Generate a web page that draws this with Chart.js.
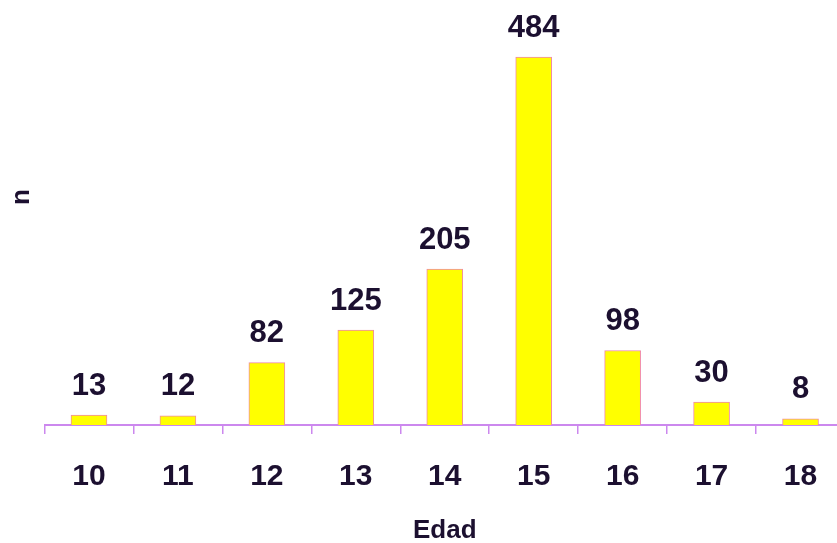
<!DOCTYPE html>
<html>
<head>
<meta charset="utf-8">
<script src="https://cdn.jsdelivr.net/npm/chart.js@4.4.1/dist/chart.umd.min.js"></script>
<style>
  html, body { margin: 0; padding: 0; background: #fff; overflow: hidden; }
  #chart { display: block; }
</style>
</head>
<body>
<canvas id="chart" width="845" height="550"></canvas>
<script>
// ── Data ────────────────────────────────────────────────────────────────
const edades = ['10', '11', '12', '13', '14', '15', '16', '17', '18'];
const casos = [13, 12, 82, 125, 205, 484, 98, 30, 8];

const TEXT = '#1c1030';
const AXIS = '#cc88ee';
const FONT = '"Liberation Sans", Arial, sans-serif';

// value labels above each bar + rotated "n" on the left
const barLabels = {
    id: 'barLabels',
    afterDatasetsDraw(chart) {
        const ctx = chart.ctx;
        const meta = chart.getDatasetMeta(0);
        ctx.save();
        ctx.fillStyle = TEXT;
        ctx.font = 'bold 31px ' + FONT;
        ctx.textAlign = 'center';
        ctx.textBaseline = 'middle';
        meta.data.forEach((bar, i) => {
            ctx.fillText(String(casos[i]), bar.x, bar.y - 29);
        });

        ctx.font = 'bold 26px ' + FONT;
        ctx.translate(22, 197);
        ctx.rotate(-Math.PI / 2);
        ctx.fillText('n', 0, 0);
        ctx.restore();
    }
};

new Chart(document.getElementById('chart'), {
    type: 'bar',
    data: {
        labels: edades,
        datasets: [{
            data: casos,
            backgroundColor: '#ffff00',
            borderColor: '#f08aa8',
            borderWidth: 1,
            barThickness: 36
        }]
    },
    options: {
        responsive: false,
        animation: false,
        layout: { padding: { left: 44.5, top: 0, right: 0, bottom: 0 } },
        plugins: {
            legend: { display: false },
            tooltip: { enabled: false }
        },
        scales: {
            y: {
                display: false,
                min: 0,
                max: 559
            },
            x: {
                afterFit(scale) { scale.height = 125; },
                border: { color: AXIS, width: 2 },
                grid: {
                    drawOnChartArea: false,
                    drawTicks: true,
                    tickLength: 9,
                    color: AXIS,
                    lineWidth: 1.5
                },
                ticks: {
                    color: TEXT,
                    font: { family: FONT, size: 30, weight: 'bold' },
                    padding: 25,
                    maxRotation: 0
                },
                title: {
                    display: true,
                    text: 'Edad',
                    color: TEXT,
                    font: { family: FONT, size: 26, weight: 'bold' },
                    padding: { top: 0, bottom: 4 }
                }
            }
        }
    },
    plugins: [barLabels]
});
</script>
</body>
</html>
